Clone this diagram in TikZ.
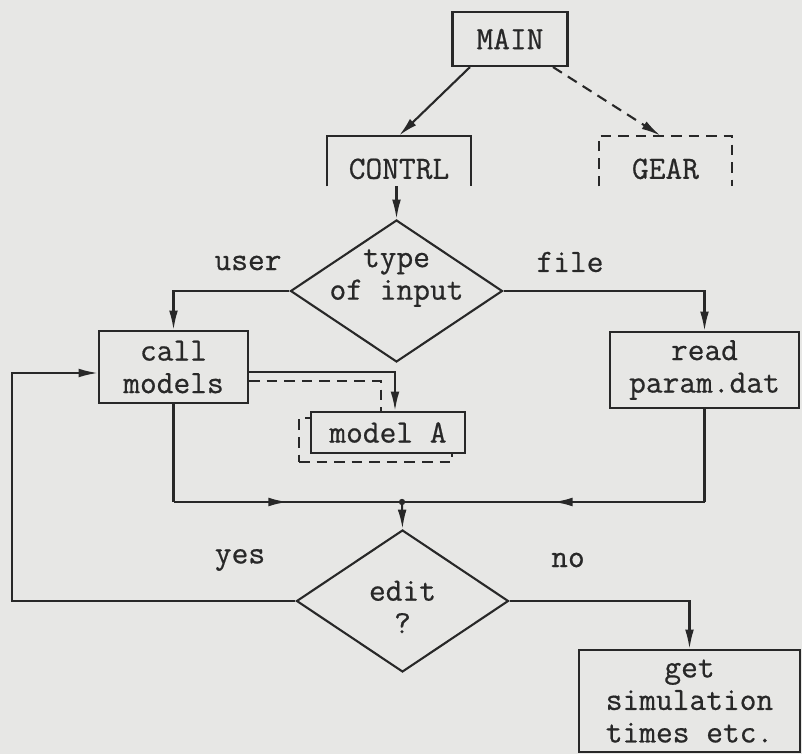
\documentclass[tikz,border=0pt]{standalone}
\usepackage{tikz}
\usepackage{fontspec}
\setmonofont{Latin Modern Mono}[FakeBold=0.6]
\usetikzlibrary{arrows.meta, positioning, shapes.geometric, calc, decorations.markings}
\definecolor{paper}{RGB}{231,231,229}
\definecolor{ink}{RGB}{40,40,40}

\begin{document}
\begin{tikzpicture}[
    every node/.style={font=\ttfamily\fontsize{18.5}{18.5}\selectfont, text=ink},
    bx/.style={draw=ink, line width=1.2pt, fill=paper, align=center, inner sep=2pt},
    half/.style={inner sep=0pt, minimum height=1cm, text height=0.72cm},
    dia/.style={draw=ink, diamond, line width=1.2pt, minimum width=4.24cm, minimum height=2.84cm, inner sep=0pt},
    dtxt/.style={align=center},
    a/.style={-{Latex[length=11pt,width=5pt]}, draw=ink, line width=1.2pt},
    ln/.style={draw=ink, line width=1.2pt},
    dsh/.style={dash pattern=on 6pt off 4pt},
    mid/.style={decoration={markings, mark=at position 0.5 with {\arrow{Latex[length=11pt,width=5pt]}}}, postaction={decorate}}
]
\fill[paper] (0,0) rectangle (16.04,-15.08);
\useasboundingbox (0,0) rectangle (16.04,-15.08);
\node[bx, minimum width=2.3cm, minimum height=1.08cm] (main) at (10.2,-0.78) {MAIN};
\node[half, minimum width=2.88cm] (contrl) at (7.98,-3.22) {CONTRL};
\node[half, minimum width=2.66cm] (gear) at (13.31,-3.22) {GEAR};
\node[dia] (type) at (7.93,-5.82) {};
\node[dtxt] (typetxt) at ([yshift=0.26cm]type.center) {type\\of input};
\node[bx, minimum width=2.98cm, minimum height=1.44cm] (callm) at (3.47,-7.34) {call\\models};
\node[bx, minimum width=3.78cm, minimum height=1.52cm] (read) at (14.09,-7.4) {read\\param.dat};
\node[bx, dsh, minimum width=3.06cm, minimum height=0.88cm] (modash) at (7.51,-8.8) {};
\node[bx, minimum width=3.08cm, minimum height=0.82cm] (moda) at (7.76,-8.65) {model A};
\coordinate (jn) at (8.04,-10.04);
\node[dia] (edit) at (8.05,-12.02) {};
\node[dtxt] (edittxt) at ([yshift=-0.12cm]edit.center) {edit\\?};
\node[bx, minimum width=4.42cm, minimum height=2.04cm] (sim) at (13.79,-14.02) {get\\simulation\\times etc.};
\node (user) at (4.96,-5.26) {user};
\node (file) at (11.4,-5.24) {file};
\node (yes) at (4.8,-11.2) {yes};
\node (no) at (11.36,-11.2) {no};
\draw[ln] (contrl.south west) |- (contrl.north) -| (contrl.south east);
\draw[ln, dsh] (gear.south west) |- (gear.north) -| (gear.south east);
\draw[a] ([xshift=-0.8cm]main.south) -- (contrl.north);
\draw[a, dsh] ([xshift=0.86cm]main.south) -- ([xshift=-0.1cm]gear.north);
\draw[a] (type.north |- contrl.south) -- (type.north);
\draw[a] (type.west) -| (callm.north);
\draw[a] (type.east) -| (read.north);
\draw[a] ([yshift=-0.1cm]callm.east) -| ([xshift=0.14cm]moda.north);
\draw[ln, dsh] ([yshift=-0.28cm]callm.east) -| ([xshift=-0.14cm]moda.north);
\draw[ln] (callm.south) -- (callm.south |- jn) coordinate (jl);
\draw[ln, mid] (jl) -- (jn);
\draw[ln] (read.south) -- (read.south |- jn) coordinate (jr);
\draw[ln, mid] (jr) -- (jn);
\fill[ink] (jn) circle (1.8pt);
\draw[a] (jn) -- (edit.north);
\coordinate (back) at (0.24,-10);
\draw[a] (edit.west) -| (back) |- ([yshift=-0.12cm]callm.west);
\draw[a] (edit.east) -| (sim.north);
\end{tikzpicture}
\end{document}
